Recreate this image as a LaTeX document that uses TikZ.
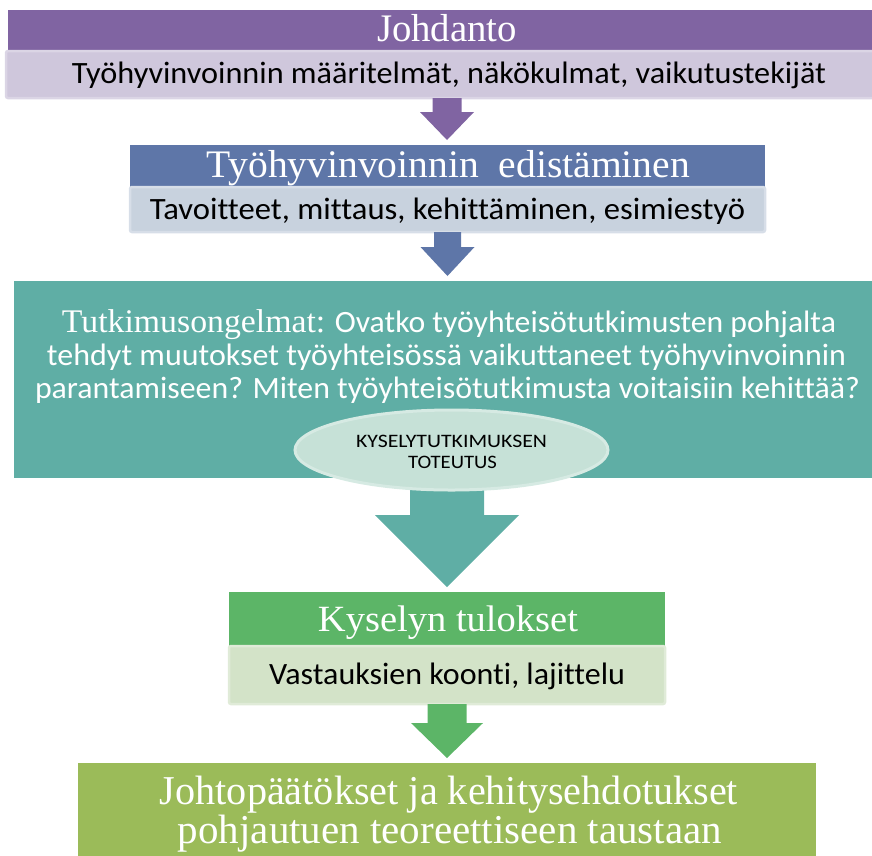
\documentclass[tikz,border=0pt]{standalone}
\usepackage{fontspec}
\setmainfont{Carlito}[Ligatures=NoCommon]
\newfontfamily\cam{Liberation Serif}
\usetikzlibrary{calc,shapes.geometric}
\newcommand\fitw[2]{\resizebox{#1pt}{\height}{#2}}
\newcommand\blockarr[6]{%
  \fill[#6] ($(#1)+(-#3,0)$) -- ($(#1 |- #2)+(-#3,-#5-5)$) -- ($(#1 |- #2)+(-#4,-#5-5)$)
    -- ($(#1 |- #2)+(0,-5)$) -- ($(#1 |- #2)+(#4,-#5-5)$) -- ($(#1 |- #2)+(#3,-#5-5)$)
    -- ($(#1)+(#3,0)$) -- cycle;}
\definecolor{purH}{HTML}{8064A2}
\definecolor{purS}{HTML}{CFC7DC}
\definecolor{purB}{HTML}{DBD5E5}
\definecolor{bluH}{HTML}{5E76A8}
\definecolor{bluS}{HTML}{C8D2DE}
\definecolor{bluB}{HTML}{D7DEE8}
\definecolor{tealH}{HTML}{5FAEA5}
\definecolor{tealE}{HTML}{C6E1D7}
\definecolor{tealB}{HTML}{D6EAE3}
\definecolor{grnH}{HTML}{5CB567}
\definecolor{grnS}{HTML}{D3E3C8}
\definecolor{grnB}{HTML}{E0EBD8}
\definecolor{oliv}{HTML}{9BBB59}
\begin{document}
\begin{tikzpicture}[x=1pt,y=-1pt,
  box/.style={rectangle, draw=none, inner sep=0pt, outer sep=0pt},
  subbox/.style={rectangle, rounded corners=2pt, line width=2.5pt, inner sep=0pt, outer sep=0pt},
  hd/.style={anchor=base, inner sep=0pt, outer sep=0pt, text=white, font=\cam\fontsize{39}{42}\selectfont},
  bd/.style={anchor=base, inner sep=0pt, outer sep=0pt, text=black, font=\fontsize{31}{34}\selectfont},
  tq/.style={anchor=base, inner sep=0pt, outer sep=0pt, text=white, font=\fontsize{31}{34}\selectfont},
  el/.style={anchor=base, inner sep=0pt, outer sep=0pt, text=black, font=\fontsize{19}{21}\selectfont}]
\useasboundingbox (0,0) rectangle (872,855);
\begin{scope}
\clip (0,0) rectangle (872,855);
% box 1
\node[box, fill=purH, minimum width=878pt, minimum height=41pt] (b1h) at (447,30.5) {};
\node[subbox, fill=purS, draw=purB, minimum width=882pt, minimum height=47pt] (b1s) at (447,74.5) {};
% box 2
\node[box, fill=bluH, minimum width=635pt, minimum height=42pt] (b2h) at (447.5,166) {};
\node[subbox, fill=bluS, draw=bluB, minimum width=635pt, minimum height=45pt] (b2s) at (447.5,209.5) {};
% box 3
\node[box, fill=tealH, minimum width=866pt, minimum height=197pt] (b3) at (447,379.5) {};
% box 4
\node[box, fill=grnH, minimum width=436pt, minimum height=54pt] (b4h) at (447,619) {};
\node[subbox, fill=grnS, draw=grnB, minimum width=436pt, minimum height=58pt] (b4s) at (447,675) {};
% box 5
\node[box, fill=oliv, minimum width=738pt, minimum height=97pt] (b5) at (447,811.5) {};
\end{scope}
% arrows
\blockarr{b1s.south}{b2h.north}{14.5}{27}{28}{purH}
\blockarr{b2s.south}{b3.north}{13.5}{27}{29}{bluH}
\coordinate (a3) at ($(b3.south)+(0,-12)$);
\blockarr{a3}{b4h.north}{37}{72}{72}{tealH}
\blockarr{b4s.south}{b5.north}{19.5}{36}{35}{grnH}
% ellipse
\node[ellipse, fill=tealE, draw=tealB, line width=3pt, minimum width=313pt, minimum height=80pt, inner sep=0pt] (el) at (451.5,450) {};
% texts
\node[hd] (t1h) at (447,41) {\fitw{140}{Johdanto}};
\node[bd] (t1s) at (449,83) {\fitw{754}{Työhyvinvoinnin määritelmät, näkökulmat, vaikutustekijät}};
\node[hd] (t2h) at (448.5,177) {\fitw{483}{Työhyvinvoinnin\ \ edistäminen}};
\node[bd] (t2s) at (447.5,219) {\fitw{595}{Tavoitteet, mittaus, kehittäminen, esimiestyö}};
\node[tq] (t3a) at (449,332) {\fitw{774}{{\cam\fontsize{33}{36}\selectfont Tutkimusongelmat:} Ovatko työyhteisötutkimusten pohjalta}};
\node[tq] (t3b) at (446.5,365) {\fitw{799}{tehdyt muutokset työyhteisössä vaikuttaneet työhyvinvoinnin}};
\node[tq] (t3c) at (447.5,398) {\fitw{825}{parantamiseen? Miten työyhteisötutkimusta voitaisiin kehittää?}};
\node[el] (te1) at (451.5,447) {\fitw{191}{KYSELYTUTKIMUKSEN}};
\node[el] (te2) at (452.5,468) {\fitw{89}{TOTEUTUS}};
\node[hd, font=\cam\fontsize{37}{40}\selectfont] (t4h) at (448,631) {\fitw{260}{Kyselyn tulokset}};
\node[bd] (t4s) at (447,684) {\fitw{356}{Vastauksien koonti, lajittelu}};
\node[hd, font=\cam\fontsize{41}{44}\selectfont] (t5a) at (449,804) {\fitw{578}{Johtopäätökset ja kehitysehdotukset}};
\node[hd, font=\cam\fontsize{41}{44}\selectfont] (t5b) at (450,843) {\fitw{544}{pohjautuen teoreettiseen taustaan}};
\end{tikzpicture}
\end{document}
